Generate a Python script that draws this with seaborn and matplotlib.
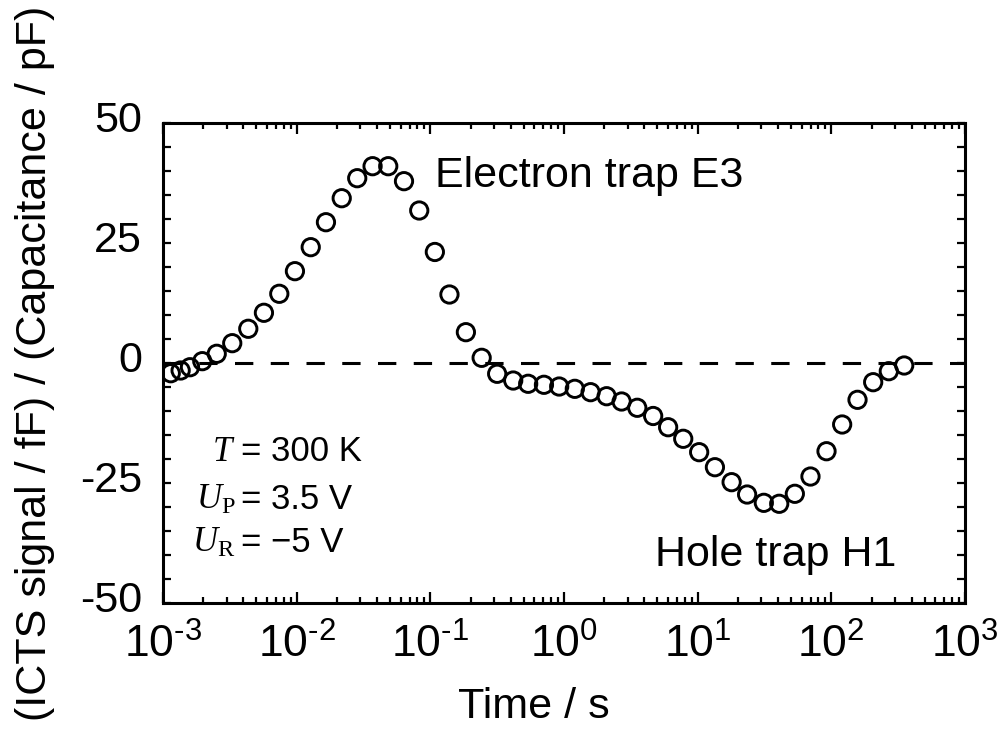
import numpy as np
import pandas as pd
import matplotlib
matplotlib.use("Agg")
import matplotlib.pyplot as plt
import matplotlib.ticker as mticker
import matplotlib.transforms as mtransforms
import seaborn as sns

# ---- data ----
time_s = [1.143e-3, 1.355e-3, 1.592e-3, 1.968e-3, 2.523e-3, 3.296e-3, 4.345e-3,
          5.689e-3, 7.413e-3, 9.705e-3, 1.274e-2, 1.656e-2, 2.173e-2, 2.838e-2,
          3.698e-2, 4.842e-2, 6.353e-2, 8.260e-2, 0.1081, 0.1390, 0.1845, 0.2421,
          0.3162, 0.4169, 0.5395, 0.7079, 0.9204, 1.205, 1.581, 2.084, 2.698,
          3.532, 4.645, 6.012, 7.798, 10.26, 13.46, 17.95, 23.44, 31.26, 40.74,
          53.33, 69.82, 92.04, 120.5, 157.0, 205.6, 269.2, 350.8]
icts_signal = [-2.13, -1.56, -0.88, 0.38, 1.92, 4.13, 7.13, 10.46, 14.42, 19.13,
               24.13, 29.33, 34.33, 38.5, 41.0, 41.0, 37.88, 31.77, 23.13, 14.27,
               6.42, 1.08, -2.25, -3.65, -4.33, -4.54, -4.90, -5.38, -6.08, -6.92,
               -8.02, -9.33, -11.04, -13.38, -15.79, -18.58, -21.71, -24.83, -27.40,
               -29.13, -29.33, -27.25, -23.65, -18.38, -12.81, -7.67, -4.0, -1.71,
               -0.52]
xtick_values = [1e-3, 1e-2, 1e-1, 1e0, 1e1, 1e2, 1e3]
xtick_labels = ["$\\mathsf{10^{\u20103}}$", "$\\mathsf{10^{\u20102}}$",
                "$\\mathsf{10^{\u20101}}$", "$\\mathsf{10^{0}}$", "$\\mathsf{10^{1}}$",
                "$\\mathsf{10^{2}}$", "$\\mathsf{10^{3}}$"]
ytick_values = [-50, -25, 0, 25, 50]
ytick_labels = ["-50", "-25", "0", "25", "50"]
peak_labels = ["Electron trap E3", "Hole trap H1"]
cond_symbols = [r"$T$", r"$U_\mathrm{P}$", r"$U_\mathrm{R}$"]
cond_values = ["= 300 K", "= 3.5 V", "= \u22125 V"]

df = pd.DataFrame({"time": time_s, "signal": icts_signal})

sns.set_theme(style="ticks")
plt.rcParams["font.family"] = ["Liberation Sans", "DejaVu Sans"]
plt.rcParams["mathtext.fontset"] = "custom"
plt.rcParams["mathtext.rm"] = "Liberation Serif"
plt.rcParams["mathtext.it"] = "Liberation Serif:italic"
plt.rcParams["mathtext.sf"] = "Liberation Sans"

fig = plt.figure(figsize=(10.03, 7.36), dpi=100)
ax = fig.add_axes([163 / 1003, 1 - 603 / 736, 802 / 1003, 480 / 736])

ax.axhline(0, color="black", lw=2.2, ls=(0, (6, 5.7)), zorder=1)
sns.scatterplot(data=df, x="time", y="signal", ax=ax, marker="o", s=155,
                facecolor="none", edgecolor="black", linewidth=2.1, zorder=3,
                legend=False)

ax.set_xscale("log")
ax.set_xlim(1e-3, 1e3)
ax.set_ylim(-50, 50)

ax.xaxis.set_major_locator(mticker.FixedLocator(xtick_values))
ax.xaxis.set_major_formatter(mticker.FixedFormatter(xtick_labels))
ax.xaxis.set_minor_locator(mticker.LogLocator(base=10, subs=np.arange(2, 10), numticks=20))
ax.xaxis.set_minor_formatter(mticker.NullFormatter())
ax.yaxis.set_major_locator(mticker.FixedLocator(ytick_values))
ax.yaxis.set_major_formatter(mticker.FixedFormatter(ytick_labels))
ax.yaxis.set_minor_locator(mticker.MultipleLocator(5))

for sp in ax.spines.values():
    sp.set_linewidth(2.2)
    sp.set_color("black")

ax.tick_params(axis="both", which="both", direction="in", top=True, right=True,
               colors="black", width=1.6)
ax.tick_params(axis="x", which="major", length=8, pad=15, labelsize=32)
ax.tick_params(axis="x", which="minor", length=4.3)
ax.tick_params(axis="y", which="major", length=5.5, pad=15, labelsize=31)
ax.tick_params(axis="y", which="minor", length=5.5)

offset = mtransforms.ScaledTranslation(0, 6 / 100, fig.dpi_scale_trans)
for lab in ax.get_yticklabels():
    lab.set_transform(lab.get_transform() + offset)

ax.set_xlabel("Time / s", fontsize=31, color="black")
ax.xaxis.set_label_coords(0.4626, -0.175)
ax.set_ylabel("(ICTS signal / fF) / (Capacitance / pF)", fontsize=31,
              labelpad=18, color="black")

ax.text(0.1084, 36.6, peak_labels[0], fontsize=31, ha="left", va="baseline",
        color="black")
ax.text(4.80, -42.2, peak_labels[1], fontsize=31, ha="left", va="baseline",
        color="black")

ys = [0.2965, 0.195, 0.107]
for sym, val, yy in zip(cond_symbols, cond_values, ys):
    ax.text(0.09, yy, sym, transform=ax.transAxes, fontsize=25, ha="right",
            va="baseline", color="black")
    ax.text(0.0973, yy, val, transform=ax.transAxes, fontsize=25, ha="left",
            va="baseline", color="black")

fig.savefig("out.png", dpi=100, facecolor="white")
